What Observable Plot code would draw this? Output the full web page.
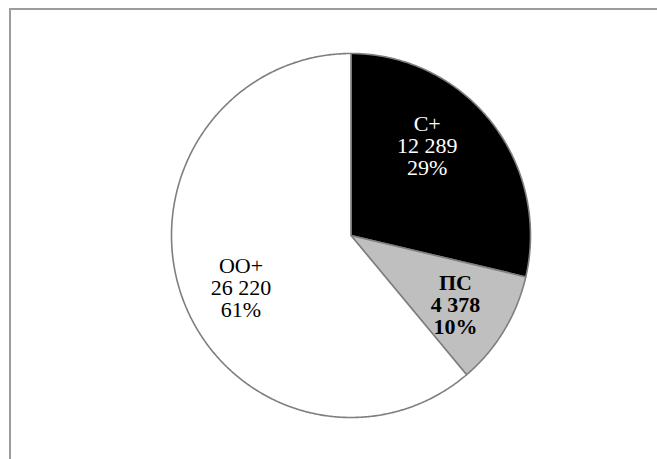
<!DOCTYPE html>
<html><head><meta charset="utf-8">
<script src="https://cdn.jsdelivr.net/npm/d3@7"></script>
<script src="https://cdn.jsdelivr.net/npm/@observablehq/plot@0.6"></script>
<style>
html,body{margin:0;padding:0;background:#fff;overflow:hidden}
#wrap{position:relative;width:657px;height:459px;overflow:hidden}
#chart{position:absolute;left:0;top:0}
#frame{position:absolute;left:9px;top:8px;width:700px;height:500px;border-top:2px solid #9c9c9c;border-left:2px solid #9c9c9c;box-sizing:border-box;pointer-events:none}
</style></head><body>
<div id="wrap"><div id="chart"></div><div id="frame"></div></div>
<script>
const categories = ["С+", "ПС", "ОО+"];
const values = [12289, 4378, 26220];
const fills = ["#000000", "#bfbfbf", "#ffffff"];

const total = d3.sum(values);
const fmt = d3.formatLocale({thousands: " ", grouping: [3], decimal: ",", currency: ["", ""]}).format(",");
const arcs = d3.pie().sort(null).value(d => d)(values);

const slices = [];
arcs.forEach((a, i) => {
  const n = Math.max(2, Math.ceil((a.endAngle - a.startAngle) / (Math.PI / 360)));
  slices.push({k: i, x: 0, y: 0, fill: fills[i]});
  for (let j = 0; j <= n; j++) {
    const t = a.startAngle + (a.endAngle - a.startAngle) * j / n;
    slices.push({k: i, x: Math.sin(t), y: Math.cos(t), fill: fills[i]});
  }
  slices.push({k: i, x: 0, y: 0, fill: fills[i]});
});

const labels = arcs.map((a, i) => {
  const m = (a.startAngle + a.endAngle) / 2;
  const r = 0.67;
  return {
    x: r * Math.sin(m), y: r * Math.cos(m),
    text: `${categories[i]}\n${fmt(values[i])}\n${Math.round(values[i] / total * 100)}%`
  };
});

const textBase = {x: "x", y: "y", text: "text", fontFamily: "Liberation Serif, Times New Roman, serif", fontSize: 22, lineHeight: 1, textAnchor: "middle", lineAnchor: "middle"};

const chart = Plot.plot({
  width: 657, height: 459,
  marginLeft: 171, marginRight: 127, marginTop: 53, marginBottom: 42,
  x: {domain: [-1, 1], axis: null},
  y: {domain: [-1, 1], axis: null},
  color: {type: "identity"},
  style: {background: "transparent"},
  marks: [
    Plot.line(slices, {x: "x", y: "y", z: "k", fill: "fill", stroke: "#7f7f7f", strokeWidth: 1.6, strokeLinejoin: "round"}),
    Plot.text([labels[0]], {...textBase, fill: "#ffffff", dx: -18, dy: -14}),
    Plot.text([labels[1]], {...textBase, fill: "#000000", fontWeight: "bold", dx: 2, dy: 6}),
    Plot.text([labels[2]], {...textBase, fill: "#000000", dx: 3, dy: 11})
  ]
});
document.getElementById("chart").appendChild(chart);
</script>
</body></html>
